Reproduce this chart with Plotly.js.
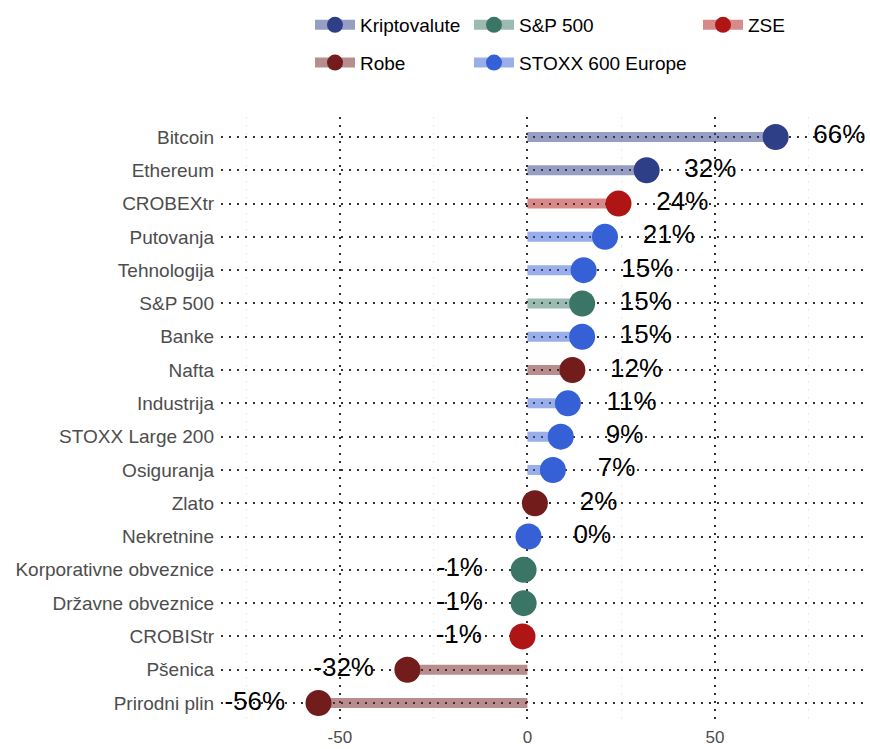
<!DOCTYPE html>
<html>
<head>
<meta charset="utf-8">
<script src="https://cdn.plot.ly/plotly-3.0.1.min.js"></script>
<style>html,body{margin:0;padding:0;background:#fff;}#chart{width:870px;height:749px;}</style>
</head>
<body>
<div id="chart"></div>
<script>
// Data
const categories = ["Bitcoin","Ethereum","CROBEXtr","Putovanja","Tehnologija","S&P 500","Banke","Nafta","Industrija","STOXX Large 200","Osiguranja","Zlato","Nekretnine","Korporativne obveznice","Državne obveznice","CROBIStr","Pšenica","Prirodni plin"];
const values = [66.2, 31.8, 24.3, 20.7, 15.0, 14.6, 14.6, 12.0, 10.8, 8.9, 6.8, 2.0, 0.3, -1.0, -1.0, -1.3, -32.0, -55.7];
const groups = ["Kriptovalute","Kriptovalute","ZSE","STOXX 600 Europe","STOXX 600 Europe","S&P 500","STOXX 600 Europe","Robe","STOXX 600 Europe","STOXX 600 Europe","STOXX 600 Europe","Robe","STOXX 600 Europe","S&P 500","S&P 500","ZSE","Robe","Robe"];
const groupNames = ["Kriptovalute","Robe","S&P 500","STOXX 600 Europe","ZSE"];
const groupColors = {"Kriptovalute":"#2E3F87","Robe":"#721C1C","S&P 500":"#3A7566","STOXX 600 Europe":"#3560D6","ZSE":"#AF1515"};
const groupLegend = {"Kriptovalute":"legend","Robe":"legend","S&P 500":"legend2","STOXX 600 Europe":"legend2","ZSE":"legend3"};

function hexA(h,a){const r=parseInt(h.slice(1,3),16),g=parseInt(h.slice(3,5),16),b=parseInt(h.slice(5,7),16);return `rgba(${r},${g},${b},${a})`;}

const traces = [];
// segments
groupNames.forEach(g=>{
  const xs=[],ys=[];
  values.forEach((v,i)=>{ if(groups[i]===g){ xs.push(0,v,null); ys.push(categories[i],categories[i],null);} });
  traces.push({type:'scatter',mode:'lines',x:xs,y:ys,line:{color:hexA(groupColors[g],0.5),width:10},showlegend:false,legendgroup:g,hoverinfo:'skip'});
});
// dots
groupNames.forEach(g=>{
  const xs=[],ys=[];
  values.forEach((v,i)=>{ if(groups[i]===g){ xs.push(v,null); ys.push(categories[i],null);} });
  traces.push({type:'scatter',mode:'lines+markers',name:g,x:xs,y:ys,legendgroup:g,legend:groupLegend[g],
    line:{color:hexA(groupColors[g],0.5),width:10},marker:{color:groupColors[g],size:26},connectgaps:false});
});
// labels
traces.push({type:'scatter',mode:'text',x:values.map(v=>v>=0?v+17:v-17),y:categories,
  text:values.map(v=>Math.round(v)+'%'),textfont:{family:'Liberation Sans, Arial, sans-serif',size:26,color:'#000'},
  textposition:'middle center',showlegend:false,cliponaxis:false,hoverinfo:'skip'});

const legBase = {orientation:'v',xref:'container',yref:'container',yanchor:'top',xanchor:'left',y:1-6/749,
  font:{family:'Liberation Sans, Arial, sans-serif',size:19,color:'#000'},bgcolor:'rgba(0,0,0,0)',tracegroupgap:10,itemsizing:'trace',itemwidth:40};
const layout = {
  width:870,height:749,
  margin:{l:221,r:4,t:117,b:26,autoexpand:false},
  paper_bgcolor:'#fff',plot_bgcolor:'#fff',
  font:{family:'Liberation Sans, Arial, sans-serif'},
  xaxis:{range:[-81.7,90.3],tickmode:'array',tickvals:[-50,0,50],ticktext:['-50','0','50'],automargin:false,
    showgrid:true,gridcolor:'#333333',gridwidth:2,griddash:'2px,6px',zeroline:false,showline:false,ticks:'',
    tickfont:{size:17,color:'#4D4D4D'},ticklabelstandoff:2,
    minor:{tickmode:'array',tickvals:[-75,-25,25,75],showgrid:true,gridcolor:'#EBEBEB',gridwidth:1,ticks:''}},
  yaxis:{type:'category',categoryorder:'array',categoryarray:categories,range:[17.6,-0.6],automargin:false,
    showgrid:true,gridcolor:'#333333',gridwidth:2,griddash:'2px,6px',zeroline:false,showline:false,ticks:'',
    tickfont:{size:19,color:'#4D4D4D'},ticklabelstandoff:6},
  legend:Object.assign({},legBase,{x:310/870}),
  legend2:Object.assign({},legBase,{x:469/870}),
  legend3:Object.assign({},legBase,{x:698/870}),
  showlegend:true
};
Plotly.newPlot('chart',traces,layout,{displayModeBar:false,staticPlot:true});
</script>
</body>
</html>
